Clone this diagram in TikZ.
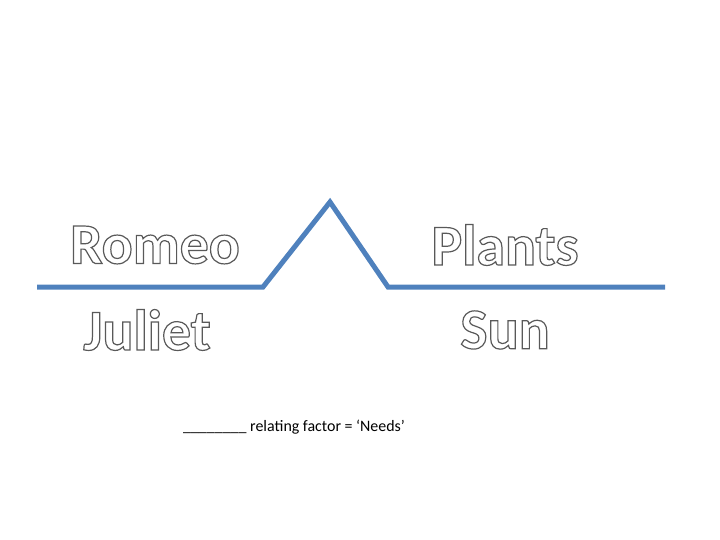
\documentclass[tikz,border=0pt]{standalone}
\usepackage{fontspec}
\setmainfont{Carlito}
\definecolor{lineblue}{RGB}{79,129,189}
\newcommand{\outltext}[1]{\special{pdf:code 2 Tr 1.2 w 0.35 0.35 0.35 RG}#1\special{pdf:code 0 Tr}}
\begin{document}
\begin{tikzpicture}[x=1bp,y=-1bp,
  big/.style={font=\fontsize{58}{60}\selectfont\bfseries,text=white,inner sep=0pt},
  conn/.style={draw=lineblue,line width=5bp}]
\useasboundingbox (0,0) rectangle (720,540);
\coordinate (a) at (37,287);
\coordinate (b) at (263,287);
\coordinate (c) at (330,202);
\coordinate (d) at (388,287);
\coordinate (e) at (665,287);
\draw[conn,line join=miter] (a) -- (b) -- (c) -- (d) -- (e);
\node[big] (romeo) at (155,245) {\outltext{Romeo}};
\node[big] (juliet) at (147,330) {\outltext{Juliet}};
\node[big] (plants) at (505,245) {\outltext{Plants}};
\node[big] (sun) at (505,330) {\outltext{Sun}};
\node[font=\fontsize{16}{18}\selectfont] (cap) at (294,427) {\_\_\_\_\_\_\_\_ relating factor = ‘Needs’};
\end{tikzpicture}
\end{document}
